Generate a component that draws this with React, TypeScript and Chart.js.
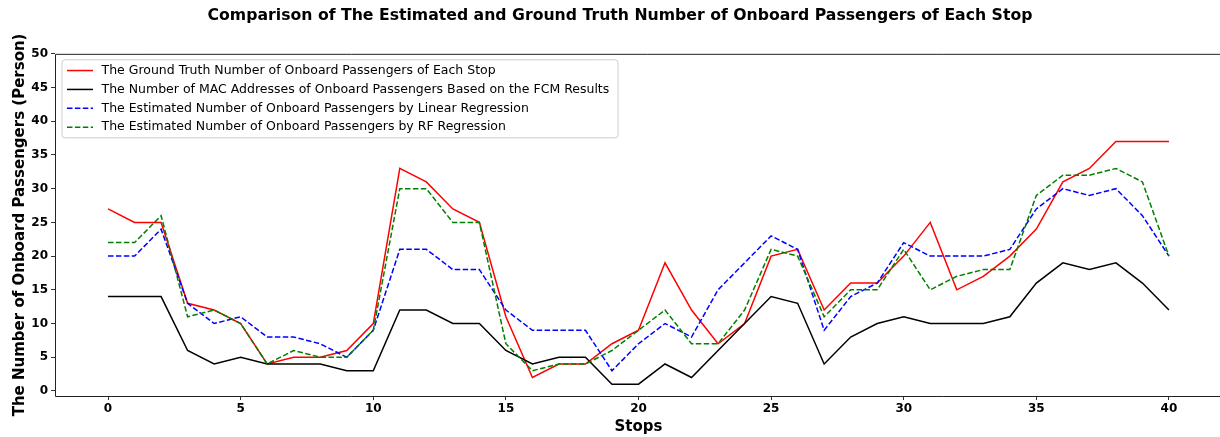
import React, { useEffect, useRef } from "react";
import { Chart, registerables } from "chart.js";

Chart.register(...registerables);

const stops: number[] = Array.from({ length: 41 }, (_, i) => i);

const groundTruth = [27, 25, 25, 13, 12, 10, 4, 5, 5, 6, 10, 33, 31, 27, 25, 11, 2, 4, 4, 7, 9, 19, 12, 7, 10, 20, 21, 12, 16, 16, 20, 25, 15, 17, 20, 24, 31, 33, 37, 37, 37];
const macFcm = [14, 14, 14, 6, 4, 5, 4, 4, 4, 3, 3, 12, 12, 10, 10, 6, 4, 5, 5, 1, 1, 4, 2, 6, 10, 14, 13, 4, 8, 10, 11, 10, 10, 10, 11, 16, 19, 18, 19, 16, 12];
const linearReg = [20, 20, 24, 13, 10, 11, 8, 8, 7, 5, 9, 21, 21, 18, 18, 12, 9, 9, 9, 3, 7, 10, 8, 15, 19, 23, 21, 9, 14, 16, 22, 20, 20, 20, 21, 27, 30, 29, 30, 26, 20];
const rfReg = [22, 22, 26, 11, 12, 10, 4, 6, 5, 5, 9, 30, 30, 25, 25, 7, 3, 4, 4, 6, 9, 12, 7, 7, 12, 21, 20, 11, 15, 15, 21, 15, 17, 18, 18, 29, 32, 32, 33, 31, 20];

const seriesLabels = [
  "The Ground Truth Number of Onboard Passengers of Each Stop",
  "The Number of MAC Addresses of Onboard Passengers Based on the FCM Results",
  "The Estimated Number of Onboard Passengers by Linear Regression",
  "The Estimated Number of Onboard Passengers by RF Regression",
];
const seriesColors = ["#ff0000", "#000000", "#0000ff", "#008000"];

const xTicks = [0, 5, 10, 15, 20, 25, 30, 35, 40];
const yTicks = [0, 5, 10, 15, 20, 25, 30, 35, 40, 45, 50];

const titleText = "Comparison of The Estimated and Ground Truth Number of Onboard Passengers of Each Stop";
const xTitle = "Stops";
const yTitle = "The Number of Onboard Passengers (Person)";

const DASH = [5.5, 2.4];

const framePlugin = {
  id: "frame",
  afterDatasetsDraw(chart: any) {
    const { ctx, chartArea, width } = chart;
    const l = chartArea.left + 0.5;
    const t = chartArea.top + 0.5;
    const b = chartArea.bottom + 0.5;
    ctx.save();
    ctx.strokeStyle = "#222";
    ctx.lineWidth = 1;
    ctx.beginPath();
    ctx.moveTo(width, t);
    ctx.lineTo(l, t);
    ctx.lineTo(l, b);
    ctx.lineTo(width, b);
    ctx.stroke();
    ctx.restore();
  },
};

const legendPlugin = {
  id: "boxLegend",
  afterDatasetsDraw(chart: any) {
    const { ctx, chartArea } = chart;
    const left = chartArea.left + 7;
    const top = chartArea.top + 6;
    const w = 556;
    const h = 78;
    const r = 3;
    ctx.save();
    ctx.beginPath();
    ctx.moveTo(left + r, top);
    ctx.lineTo(left + w - r, top);
    ctx.arcTo(left + w, top, left + w, top + r, r);
    ctx.lineTo(left + w, top + h - r);
    ctx.arcTo(left + w, top + h, left + w - r, top + h, r);
    ctx.lineTo(left + r, top + h);
    ctx.arcTo(left, top + h, left, top + h - r, r);
    ctx.lineTo(left, top + r);
    ctx.arcTo(left, top, left + r, top, r);
    ctx.closePath();
    ctx.fillStyle = "rgba(255,255,255,0.8)";
    ctx.fill();
    ctx.strokeStyle = "#cccccc";
    ctx.lineWidth = 1;
    ctx.stroke();
    chart.data.datasets.forEach((ds: any, i: number) => {
      const y = top + 10.7 + i * 18.9;
      ctx.beginPath();
      ctx.setLineDash(ds.borderDash || []);
      ctx.strokeStyle = ds.borderColor;
      ctx.lineWidth = ds.borderWidth;
      ctx.moveTo(left + 5, y);
      ctx.lineTo(left + 31, y);
      ctx.stroke();
      ctx.setLineDash([]);
      ctx.fillStyle = "#000";
      ctx.font = '12.5px "DejaVu Sans"';
      ctx.textBaseline = "middle";
      ctx.textAlign = "left";
      ctx.fillText(ds.label, left + 39.5, y);
    });
    ctx.restore();
  },
};

export default function App() {
  const ref = useRef<HTMLCanvasElement | null>(null);
  useEffect(() => {
    document.body.style.margin = "0";
    document.body.style.overflow = "hidden";
    if (!ref.current) return;
    const mk = (vals: number[]) => vals.map((v, i) => ({ x: stops[i], y: v }));
    const all = [groundTruth, macFcm, linearReg, rfReg];
    const chart = new Chart(ref.current, {
      type: "line",
      data: {
        datasets: all.map((vals, i) => ({
          label: seriesLabels[i],
          data: mk(vals),
          borderColor: seriesColors[i],
          backgroundColor: seriesColors[i],
          borderWidth: 1.5,
          borderDash: i >= 2 ? DASH : [],
          pointRadius: 0,
          tension: 0,
          fill: false,
          order: 4 - i,
        })),
      },
      options: {
        animation: false,
        responsive: false,
        devicePixelRatio: 1,
        layout: { padding: { left: 18, right: 18, top: 0, bottom: 0 } },
        font: { family: "DejaVu Sans" },
        plugins: {
          legend: { display: false },
          tooltip: { enabled: false },
          title: {
            display: true,
            text: titleText,
            color: "#000",
            font: { family: "DejaVu Sans", size: 15.7, weight: "bold" },
            padding: { top: 7, bottom: 28 },
          },
        },
        scales: {
          x: {
            type: "linear",
            min: -2,
            max: 42,
            afterFit: (s: any) => { s.height = 41; },
            afterBuildTicks: (s: any) => { s.ticks = xTicks.map((v) => ({ value: v })); },
            grid: { display: true, drawOnChartArea: false, drawTicks: true, tickLength: 4, color: "#333" },
            border: { display: false },
            ticks: {
              color: "#000",
              padding: 2,
              maxRotation: 0,
              font: { family: "DejaVu Sans", size: 12, weight: "bold" },
              callback: (v: any) => String(v),
            },
            title: {
              display: true,
              text: xTitle,
              color: "#000",
              font: { family: "DejaVu Sans", size: 15, weight: "bold" },
              padding: { top: 0, bottom: 1 },
            },
          },
          y: {
            type: "linear",
            min: -0.75,
            max: 50,
            afterFit: (s: any) => { s.width = 37; },
            afterBuildTicks: (s: any) => { s.ticks = yTicks.map((v) => ({ value: v })); },
            grid: { display: true, drawOnChartArea: false, drawTicks: true, tickLength: 4, color: "#333" },
            border: { display: false },
            ticks: {
              color: "#000",
              padding: 3,
              font: { family: "DejaVu Sans", size: 12, weight: "bold" },
              callback: (v: any) => String(v),
            },
            title: {
              display: true,
              text: yTitle,
              color: "#000",
              font: { family: "DejaVu Sans", size: 15, weight: "bold" },
              padding: { top: -7, bottom: 0 },
            },
          },
        },
      },
      plugins: [framePlugin, legendPlugin],
    } as any);
    return () => chart.destroy();
  }, []);
  return <canvas ref={ref} width={1240} height={437} style={{ display: "block", width: 1240, height: 437 }} />;
}
